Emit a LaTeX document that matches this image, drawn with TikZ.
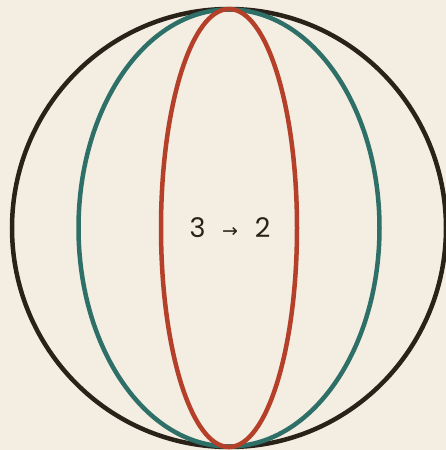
\documentclass[tikz,border=0pt]{standalone}
\usepackage{fontspec}
\setmainfont{Poppins}
\newfontfamily\symfont{DejaVu Sans}
\definecolor{bg}{HTML}{F4EDE2}
\definecolor{ink}{HTML}{2A2119}
\definecolor{teal}{HTML}{2E7068}
\definecolor{rust}{HTML}{B4402A}
\begin{document}
\begin{tikzpicture}[x=1pt,y=-1pt,
  ring/.style={line width=4.5pt}]
\useasboundingbox[fill=bg] (0,0) rectangle (446,450);
\coordinate (c) at (229,228);
\draw[ring,ink] (c) ellipse [x radius=217, y radius=219];
\draw[ring,teal] (c) ellipse [x radius=150.5, y radius=218.5];
\draw[ring,rust] (c) ellipse [x radius=68, y radius=219];
\node[ink,font=\fontsize{27}{30}\selectfont] (lbl) at (230,228) {3\hspace{0.62em}{\fontsize{19}{20}\selectfont\symfont →}\hspace{0.62em}2};
\end{tikzpicture}
\end{document}
